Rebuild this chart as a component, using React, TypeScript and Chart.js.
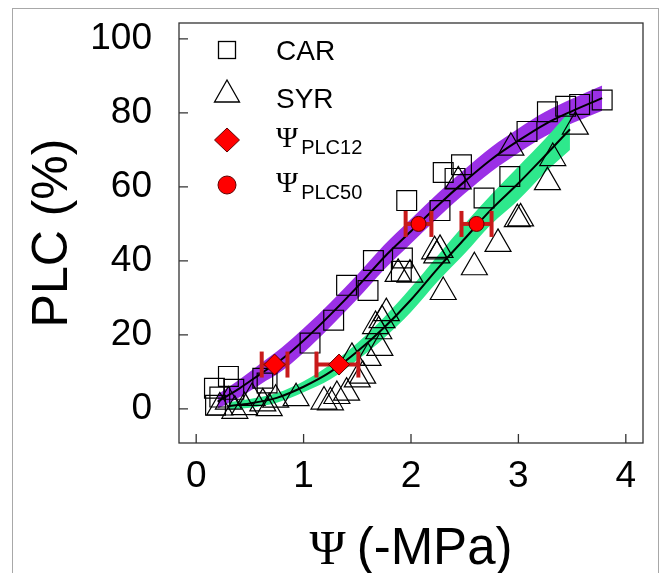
import React, { useEffect, useRef } from 'react';
import { Chart, registerables } from 'chart.js';

Chart.register(...registerables);

// ---- data ----
const carX = [0.17, 0.18, 0.22, 0.30, 0.35, 0.62, 0.66, 1.06, 1.28, 1.40, 1.60, 1.65, 1.91, 1.92, 1.96, 2.27, 2.30, 2.41, 2.47, 2.68, 2.92, 3.08, 3.27, 3.44, 3.57, 3.78];
const carY = [5.6, 1.0, 3.2, 8.8, 5.3, 8.3, 7.0, 17.8, 24.0, 33.4, 32.0, 40.1, 37.2, 40.8, 56.3, 53.6, 63.9, 62.3, 66.0, 57.0, 62.8, 75.0, 80.3, 81.8, 82.3, 83.5];

const syrX = [0.22, 0.30, 0.36, 0.45, 0.52, 0.62, 0.68, 0.74, 0.93, 1.19, 1.25, 1.31, 1.40, 1.50, 1.55, 1.45, 1.60, 1.67, 1.70, 1.73, 1.77, 1.71, 1.88, 1.99, 2.22, 2.27, 2.24, 2.30, 2.44, 2.59, 2.81, 2.93, 2.99, 3.02, 3.27, 3.32, 3.53];
const syrY = [0.4, 2.0, -0.5, 0.5, 3.0, 1.5, 0.2, 2.5, 2.9, 2.0, 1.8, 3.5, 4.4, 8.0, 9.0, 13.8, 13.8, 22.4, 21.0, 24.0, 25.9, 16.5, 36.5, 36.3, 42.6, 43.0, 41.5, 31.6, 61.5, 38.3, 44.6, 70.6, 51.3, 51.5, 61.3, 67.8, 76.3];

const carFitX = [0.2, 0.4, 0.6, 0.8, 1.0, 1.25, 1.5, 1.75, 2.0, 2.25, 2.5, 2.75, 3.0, 3.25, 3.5, 3.78];
const carFitY = [2, 5.5, 9.5, 13.5, 18.5, 25.5, 33, 41, 48, 55, 61.5, 67.5, 72.5, 77, 80.5, 84];
const carBandUpper = [3.9, 7.9, 12.3, 16.7, 21.8, 28.8, 36.3, 44.3, 51.3, 58.3, 64.8, 70.8, 75.8, 80.3, 83.8, 87.4];
const carBandLower = [0.1, 3.1, 6.7, 10.3, 15.2, 22.2, 29.7, 37.7, 44.7, 51.7, 58.2, 64.2, 69.2, 73.7, 77.2, 80.6];

const syrFitX = [0.3, 0.5, 0.75, 1.0, 1.25, 1.5, 1.75, 2.0, 2.25, 2.5, 2.75, 3.0, 3.25, 3.48];
const syrFitY = [0.8, 1.5, 3, 6, 10, 15.5, 22, 29.5, 38, 46, 54, 61, 68.5, 75.6];
const syrBandUpper = [1.8, 2.7, 4.3, 7.5, 12, 17.8, 24.8, 32.8, 41.5, 50, 58, 65.5, 73, 80.5];
const syrBandLower = [-0.2, 0.3, 1.7, 4.5, 8, 13.2, 19.2, 26.2, 34.5, 42, 50, 56.5, 64, 70];

const plc12X = [0.73, 1.33];
const plc12Y = [12, 12];
const plc12Lo = [0.61, 1.12];
const plc12Hi = [0.85, 1.51];

const plc50X = [2.07, 2.61];
const plc50Y = [50, 50];
const plc50Lo = [1.95, 2.47];
const plc50Hi = [2.19, 2.75];

const xTicks = [0, 1, 2, 3, 4];
const yTicks = [0, 20, 40, 60, 80, 100];

const legendLabels = ['CAR', 'SYR', 'Ψ', 'Ψ'];
const legendSubs = ['', '', 'PLC12', 'PLC50'];
const xTitleSymbol = 'Ψ';
const xTitleRest = '(-MPa)';
const yTitle = 'PLC (%)';

// ---- styles ----
const SANS = '"Liberation Sans", Arial, sans-serif';
const SERIF = '"Liberation Serif", "Times New Roman", serif';
const PURPLE = '#9b30e6';
const GREEN = '#2ee88c';
const RED = '#ff0000';
const ERR = '#c81a1a';

const pts = (xs: number[], ys: number[]) => xs.map((x, i) => ({ x, y: ys[i] }));

const decorPlugin = {
  id: 'decor',
  beforeDraw(chart: any) {
    const ctx = chart.ctx;
    ctx.save();
    ctx.strokeStyle = '#a8a8a8';
    ctx.lineWidth = 1;
    ctx.strokeRect(12.5, 8.5, 646, 600);
    ctx.restore();
  },
  afterDraw(chart: any) {
    const ctx = chart.ctx;
    const { left, right, top, bottom } = chart.chartArea;
    const xs = chart.scales.x;
    const ys = chart.scales.y;
    ctx.save();
    // frame
    ctx.strokeStyle = '#333';
    ctx.lineWidth = 1.3;
    ctx.strokeRect(left, top, right - left, bottom - top);
    // inward ticks
    ctx.beginPath();
    xTicks.forEach((v) => {
      const p = xs.getPixelForValue(v);
      ctx.moveTo(p, bottom);
      ctx.lineTo(p, bottom - 9);
    });
    yTicks.forEach((v) => {
      const p = ys.getPixelForValue(v);
      ctx.moveTo(left, p);
      ctx.lineTo(left + 9, p);
    });
    ctx.stroke();

    // x title
    ctx.fillStyle = '#000';
    ctx.textBaseline = 'alphabetic';
    ctx.textAlign = 'left';
    ctx.font = `49px ${SERIF}`;
    const w1 = ctx.measureText(xTitleSymbol).width;
    ctx.font = `51px ${SANS}`;
    const w2 = ctx.measureText(xTitleRest).width;
    const gap = 11;
    const cx = (left + right) / 2;
    const sx = cx - (w1 + gap + w2) / 2;
    const by = 564;
    ctx.font = `49px ${SERIF}`;
    ctx.fillText(xTitleSymbol, sx, by);
    ctx.font = `51px ${SANS}`;
    ctx.fillText(xTitleRest, sx + w1 + gap, by);

    // legend
    const mx = left + 48;
    const tx = left + 97;
    const rows = [top + 27, top + 70, top + 117, top + 162];
    ctx.lineWidth = 1.3;
    ctx.strokeStyle = '#000';
    // square
    ctx.strokeRect(mx - 8.5, rows[0] - 8.5, 17, 17);
    // triangle
    ctx.beginPath();
    ctx.moveTo(mx, rows[1] - 13);
    ctx.lineTo(mx + 12.5, rows[1] + 9);
    ctx.lineTo(mx - 12.5, rows[1] + 9);
    ctx.closePath();
    ctx.stroke();
    // diamond
    ctx.beginPath();
    ctx.moveTo(mx, rows[2] - 12);
    ctx.lineTo(mx + 12.5, rows[2]);
    ctx.lineTo(mx, rows[2] + 12);
    ctx.lineTo(mx - 12.5, rows[2]);
    ctx.closePath();
    ctx.fillStyle = RED;
    ctx.fill();
    ctx.strokeStyle = '#600000';
    ctx.lineWidth = 1;
    ctx.stroke();
    // circle
    ctx.beginPath();
    ctx.arc(mx, rows[3], 9, 0, Math.PI * 2);
    ctx.fill();
    ctx.stroke();

    ctx.fillStyle = '#000';
    ctx.textBaseline = 'middle';
    legendLabels.forEach((lab, i) => {
      const sub = legendSubs[i];
      if (!sub) {
        ctx.font = `28px ${SANS}`;
        ctx.fillText(lab, tx, rows[i] + 2 + (i === 1 ? 5 : 0));
      } else {
        ctx.font = `30px ${SERIF}`;
        ctx.fillText(lab, tx, rows[i] - 1);
        const w = ctx.measureText(lab).width;
        ctx.font = `20px ${SANS}`;
        ctx.fillText(sub, tx + w + 3, rows[i] + 8);
      }
    });
    ctx.restore();
  },
};

export default function App() {
  const ref = useRef<HTMLCanvasElement | null>(null);

  useEffect(() => {
    document.body.style.margin = '0';
    const canvas = ref.current;
    if (!canvas) return;

    const band = (lower: number[], upper: number[], xs: number[], color: string, lowerIndex: number, order: number) => [
      {
        data: pts(xs, lower),
        borderWidth: 0,
        pointRadius: 0,
        fill: false,
        cubicInterpolationMode: 'monotone',
        order,
      },
      {
        data: pts(xs, upper),
        borderWidth: 0,
        pointRadius: 0,
        backgroundColor: color,
        fill: { target: lowerIndex },
        cubicInterpolationMode: 'monotone',
        order,
      },
    ];

    const fitLine = (xs: number[], ys: number[]) => ({
      data: pts(xs, ys),
      borderColor: '#000',
      borderWidth: 2,
      pointRadius: 0,
      fill: false,
      cubicInterpolationMode: 'monotone',
      order: 4,
    });

    const errBars = [
      ...plc12X.map((_, i) => ({ lo: plc12Lo[i], hi: plc12Hi[i], y: plc12Y[i] })),
      ...plc50X.map((_, i) => ({ lo: plc50Lo[i], hi: plc50Hi[i], y: plc50Y[i] })),
    ].map((e) => ({
      data: [{ x: e.lo, y: e.y }, { x: e.hi, y: e.y }],
      borderColor: ERR,
      borderWidth: 4,
      pointStyle: 'line',
      pointRotation: 90,
      pointRadius: 13,
      pointBorderWidth: 4,
      pointBorderColor: ERR,
      fill: false,
      order: 2,
    }));

    const datasets: any[] = [
      ...band(carBandLower, carBandUpper, carFitX, PURPLE, 0, 6),
      ...band(syrBandLower, syrBandUpper, syrFitX, GREEN, 2, 5),
      fitLine(carFitX, carFitY),
      fitLine(syrFitX, syrFitY),
      {
        label: 'CAR',
        data: pts(carX, carY),
        showLine: false,
        pointStyle: 'rect',
        pointRadius: 14,
        pointBorderWidth: 1.2,
        pointBorderColor: '#000',
        pointBackgroundColor: 'rgba(0,0,0,0)',
        order: 3,
      },
      {
        label: 'SYR',
        data: pts(syrX, syrY),
        showLine: false,
        pointStyle: 'triangle',
        pointRadius: 15,
        pointBorderWidth: 1.2,
        pointBorderColor: '#000',
        pointBackgroundColor: 'rgba(0,0,0,0)',
        order: 3,
      },
      ...errBars,
      {
        label: 'PLC12',
        data: pts(plc12X, plc12Y),
        showLine: false,
        pointStyle: 'rectRot',
        pointRadius: 10.5,
        pointBorderWidth: 1,
        pointBorderColor: '#600000',
        pointBackgroundColor: RED,
        order: 1,
      },
      {
        label: 'PLC50',
        data: pts(plc50X, plc50Y),
        showLine: false,
        pointStyle: 'circle',
        pointRadius: 7.5,
        pointBorderWidth: 1,
        pointBorderColor: '#600000',
        pointBackgroundColor: RED,
        order: 1,
      },
    ];

    const chart = new Chart(canvas, {
      type: 'line',
      data: { datasets },
      options: {
        animation: false,
        responsive: false,
        events: [],
        layout: { padding: { left: 0, top: 23, right: 14, bottom: 0 } },
        plugins: {
          legend: { display: false },
          tooltip: { enabled: false },
        },
        scales: {
          x: {
            type: 'linear',
            min: -0.16,
            max: 4.16,
            afterBuildTicks: (s: any) => {
              s.ticks = xTicks.map((v) => ({ value: v }));
            },
            afterFit: (s: any) => {
              s.height = 130;
              s.paddingLeft = 0;
              s.paddingRight = 0;
            },
            grid: { display: false, drawTicks: false },
            border: { display: false },
            ticks: {
              padding: 12,
              autoSkip: false,
              maxRotation: 0,
              color: '#000',
              font: { family: SANS, size: 37 },
            },
          },
          y: {
            type: 'linear',
            min: -9.2,
            max: 104.3,
            afterBuildTicks: (s: any) => {
              s.ticks = yTicks.map((v) => ({ value: v }));
            },
            afterFit: (s: any) => {
              s.width = 179;
              s.paddingTop = 0;
              s.paddingBottom = 0;
            },
            grid: { display: false, drawTicks: false },
            border: { display: false },
            ticks: {
              padding: 27,
              autoSkip: false,
              color: '#000',
              font: { family: SANS, size: 37 },
            },
            title: {
              display: true,
              text: yTitle,
              color: '#000',
              font: { family: SANS, size: 50, lineHeight: 1 },
              padding: { top: 28, bottom: 0 },
            },
          },
        },
      } as any,
      plugins: [decorPlugin],
    });

    return () => chart.destroy();
  }, []);

  return (
    <div style={{ width: 660, height: 573, background: '#fff' }}>
      <canvas ref={ref} width={660} height={573} style={{ display: 'block' }} />
    </div>
  );
}
